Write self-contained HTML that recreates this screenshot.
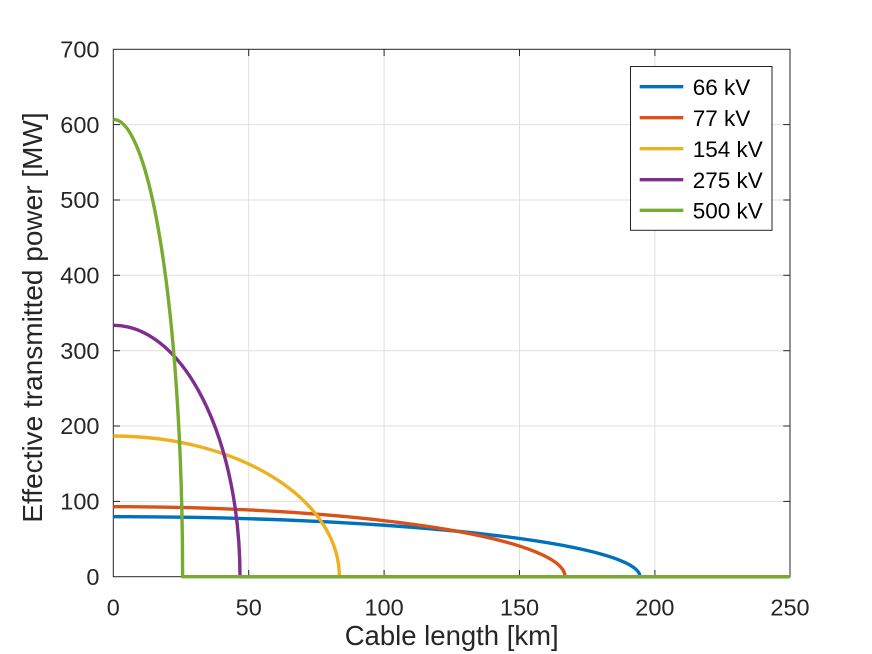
<!DOCTYPE html>
<html>
<head>
<meta charset="utf-8">
<style>
  html, body { margin:0; padding:0; background:#fff; }
  svg { display:block; }
  text { font-family: "Liberation Sans", "DejaVu Sans", sans-serif; fill:#262626; }
</style>
</head>
<body>
<svg width="872" height="654" viewBox="0 0 872 654" xmlns="http://www.w3.org/2000/svg">
  <rect x="0" y="0" width="872" height="654" fill="#fff"/>
  <!-- grid -->
  <g stroke="#dfdfdf" stroke-width="1">
    <line x1="248.7" y1="49.3" x2="248.7" y2="576.7"/>
    <line x1="384.1" y1="49.3" x2="384.1" y2="576.7"/>
    <line x1="519.5" y1="49.3" x2="519.5" y2="576.7"/>
    <line x1="654.9" y1="49.3" x2="654.9" y2="576.7"/>
    <line x1="113.3" y1="501.4" x2="790" y2="501.4"/>
    <line x1="113.3" y1="426.0" x2="790" y2="426.0"/>
    <line x1="113.3" y1="350.7" x2="790" y2="350.7"/>
    <line x1="113.3" y1="275.3" x2="790" y2="275.3"/>
    <line x1="113.3" y1="200.0" x2="790" y2="200.0"/>
    <line x1="113.3" y1="124.6" x2="790" y2="124.6"/>
  </g>
  <!-- axes box -->
  <rect x="113.3" y="49.3" width="676.7" height="527.4" fill="none" stroke="#262626" stroke-width="1"/>
  <!-- ticks -->
  <g stroke="#262626" stroke-width="1">
    <line x1="248.7" y1="576.7" x2="248.7" y2="570"/>
    <line x1="384.1" y1="576.7" x2="384.1" y2="570"/>
    <line x1="519.5" y1="576.7" x2="519.5" y2="570"/>
    <line x1="654.9" y1="576.7" x2="654.9" y2="570"/>
    <line x1="248.7" y1="49.3" x2="248.7" y2="56"/>
    <line x1="384.1" y1="49.3" x2="384.1" y2="56"/>
    <line x1="519.5" y1="49.3" x2="519.5" y2="56"/>
    <line x1="654.9" y1="49.3" x2="654.9" y2="56"/>
    <line x1="113.3" y1="501.4" x2="120" y2="501.4"/>
    <line x1="113.3" y1="426.0" x2="120" y2="426.0"/>
    <line x1="113.3" y1="350.7" x2="120" y2="350.7"/>
    <line x1="113.3" y1="275.3" x2="120" y2="275.3"/>
    <line x1="113.3" y1="200.0" x2="120" y2="200.0"/>
    <line x1="113.3" y1="124.6" x2="120" y2="124.6"/>
    <line x1="790" y1="501.4" x2="783.3" y2="501.4"/>
    <line x1="790" y1="426.0" x2="783.3" y2="426.0"/>
    <line x1="790" y1="350.7" x2="783.3" y2="350.7"/>
    <line x1="790" y1="275.3" x2="783.3" y2="275.3"/>
    <line x1="790" y1="200.0" x2="783.3" y2="200.0"/>
    <line x1="790" y1="124.6" x2="783.3" y2="124.6"/>
  </g>
  <!-- series -->
  <g fill="none" stroke-width="3.4" stroke-linejoin="round">
    <path stroke="#0072BD" d="M113.3,516.7 A526.7,60.0 0 0 1 640.0,576.7 L790,576.7"/>
    <path stroke="#D95319" d="M113.3,506.7 A451.7,70.0 0 0 1 565.0,576.7 L790,576.7"/>
    <path stroke="#EDB120" d="M113.3,436.0 A226.1,140.7 0 0 1 339.4,576.7 L790,576.7"/>
    <path stroke="#7E2F8E" d="M113.3,325.3 A126.7,251.4 0 0 1 240.0,576.7 L790,576.7"/>
    <path stroke="#77AC30" d="M113.3,119.4 A69.3,457.3 0 0 1 182.6,576.7 L790,576.7"/>
  </g>
  <!-- y tick labels -->
  <g font-size="23.5" text-anchor="end">
    <text x="99.5" y="584.9">0</text>
    <text x="99.5" y="509.6">100</text>
    <text x="99.5" y="434.2">200</text>
    <text x="99.5" y="358.9">300</text>
    <text x="99.5" y="283.5">400</text>
    <text x="99.5" y="208.2">500</text>
    <text x="99.5" y="132.8">600</text>
    <text x="99.5" y="57.5">700</text>
  </g>
  <!-- x tick labels -->
  <g font-size="23.5" text-anchor="middle">
    <text x="113.3" y="615.5">0</text>
    <text x="248.7" y="615.5">50</text>
    <text x="384.1" y="615.5">100</text>
    <text x="519.5" y="615.5">150</text>
    <text x="654.9" y="615.5">200</text>
    <text x="790" y="615.5">250</text>
  </g>
  <!-- axis labels -->
  <text x="451.7" y="645" font-size="27.5" text-anchor="middle">Cable length [km]</text>
  <text transform="translate(42,317.5) rotate(-90)" font-size="28" text-anchor="middle">Effective transmitted power [MW]</text>
  <!-- legend -->
  <rect x="630.5" y="66.5" width="141.5" height="163.8" fill="#fff" stroke="#262626" stroke-width="1"/>
  <g stroke-width="3.4">
    <line x1="639.7" y1="86.7" x2="683.3" y2="86.7" stroke="#0072BD"/>
    <line x1="639.7" y1="117.7" x2="683.3" y2="117.7" stroke="#D95319"/>
    <line x1="639.7" y1="148.7" x2="683.3" y2="148.7" stroke="#EDB120"/>
    <line x1="639.7" y1="179.7" x2="683.3" y2="179.7" stroke="#7E2F8E"/>
    <line x1="639.7" y1="210.3" x2="683.3" y2="210.3" stroke="#77AC30"/>
  </g>
  <g font-size="22.5">
    <text x="692.7" y="94.8" style="fill:#000">66 kV</text>
    <text x="692.7" y="125.8" style="fill:#000">77 kV</text>
    <text x="692.7" y="156.8" style="fill:#000">154 kV</text>
    <text x="692.7" y="187.8" style="fill:#000">275 kV</text>
    <text x="692.7" y="218.4" style="fill:#000">500 kV</text>
  </g>
</svg>
</body>
</html>
